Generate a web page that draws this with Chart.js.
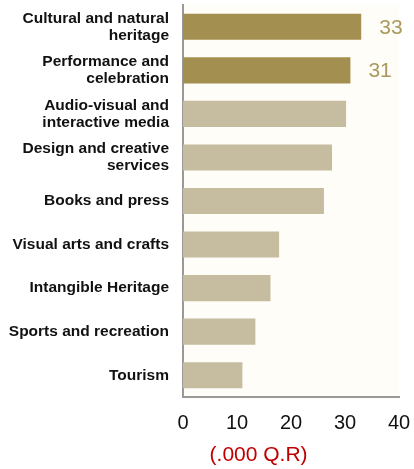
<!DOCTYPE html>
<html lang="en">
<head>
    <meta charset="UTF-8">
    <title>Cultural domains</title>
    <script src="https://cdn.jsdelivr.net/npm/chart.js"></script>
    <style>
        html, body { margin: 0; padding: 0; background: #ffffff; }
        .chart-box { width: 414px; height: 469px; position: relative; }
    </style>
</head>
<body>
    <div class="chart-box">
        <canvas id="domainChart"></canvas>
    </div>

    <script>
        const domains = [
            ["Cultural and natural", "heritage"],
            ["Performance and", "celebration"],
            ["Audio-visual and", "interactive media"],
            ["Design and creative", "services"],
            "Books and press",
            "Visual arts and crafts",
            "Intangible Heritage",
            "Sports and recreation",
            "Tourism"
        ];
        const spending = [33, 31, 30.2, 27.6, 26.1, 17.8, 16.2, 13.4, 11.0];
        // only the two leading domains carry a printed value
        const shownValues = ["33", "31", null, null, null, null, null, null, null];
        const unitLabel = "(.000 Q.R)";

        const darkGold = "#a38f4f";
        const lightGold = "#c6bc9f";
        const barColors = spending.map((v, i) => shownValues[i] ? darkGold : lightGold);
        const fontFamily = "'Liberation Sans', Arial, sans-serif";

        // cream fill behind the plot area
        const plotBackground = {
            id: "plotBackground",
            beforeDraw(chart) {
                const { ctx, chartArea } = chart;
                ctx.save();
                ctx.fillStyle = "#fffdf8";
                ctx.fillRect(chartArea.left, chartArea.top, chartArea.right - chartArea.left, chartArea.bottom - chartArea.top);
                ctx.restore();
            }
        };

        // value text to the right of the highlighted bars, plus the unit under the axis
        const valueText = {
            id: "valueText",
            afterDraw(chart) {
                const ctx = chart.ctx;
                const bars = chart.getDatasetMeta(0).data;
                ctx.save();
                ctx.font = "21px " + fontFamily;
                ctx.fillStyle = "#aa995c";
                ctx.textAlign = "left";
                ctx.textBaseline = "middle";
                bars.forEach((bar, i) => {
                    if (shownValues[i]) ctx.fillText(shownValues[i], bar.x + 18, bar.y + 1);
                });
                const xScale = chart.scales.x;
                ctx.font = "21px " + fontFamily;
                ctx.fillStyle = "#c00000";
                ctx.textAlign = "center";
                ctx.fillText(unitLabel, xScale.getPixelForValue(14), 455);
                ctx.restore();
            }
        };

        const ctx = document.getElementById("domainChart").getContext("2d");
        const domainChart = new Chart(ctx, {
            type: "bar",
            data: {
                labels: domains,
                datasets: [{
                    data: spending,
                    backgroundColor: barColors,
                    borderWidth: 0,
                    barPercentage: 0.6,
                    categoryPercentage: 1.0
                }]
            },
            options: {
                indexAxis: "y",
                responsive: true,
                maintainAspectRatio: false,
                animation: false,
                layout: { padding: { top: 5, right: 15, left: 0, bottom: 0 } },
                plugins: {
                    legend: { display: false },
                    tooltip: { enabled: false }
                },
                scales: {
                    x: {
                        min: 0,
                        max: 40,
                        grid: { display: false, drawTicks: false },
                        border: { display: true, color: "#999999", width: 2 },
                        ticks: {
                            stepSize: 10,
                            color: "#111111",
                            padding: 14,
                            font: { family: fontFamily, size: 20 }
                        },
                        afterFit(scale) {
                            scale.height = 72;
                            scale.paddingLeft = 0;
                            scale.paddingRight = 0;
                        }
                    },
                    y: {
                        grid: { display: false, drawTicks: false },
                        border: { display: true, color: "#999999", width: 2 },
                        ticks: {
                            color: "#111111",
                            padding: 14,
                            font: { family: fontFamily, size: 15.5, weight: "bold", lineHeight: 1.1 }
                        },
                        afterFit(scale) {
                            scale.width = 183;
                            scale.paddingTop = 0;
                            scale.paddingBottom = 0;
                        }
                    }
                }
            },
            plugins: [plotBackground, valueText]
        });
    </script>
</body>
</html>
